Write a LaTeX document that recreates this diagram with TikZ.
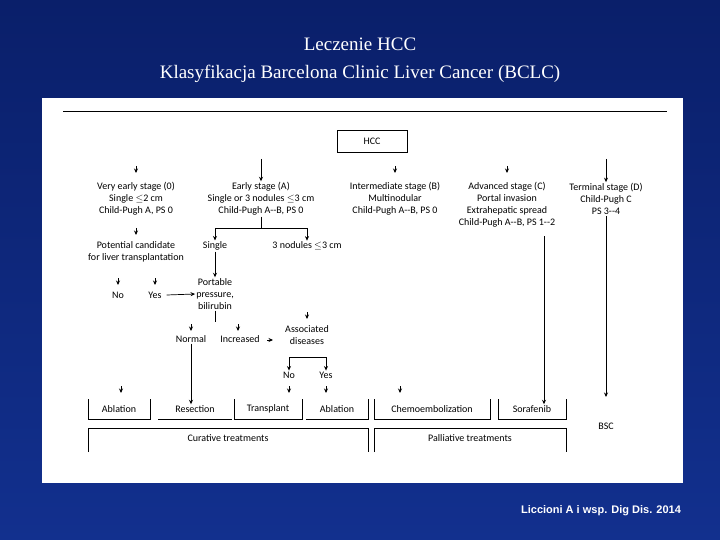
\documentclass[tikz,border=0pt]{standalone}
\usepackage{fontspec}
\setmainfont{Liberation Serif}
\newfontfamily\chartfont{Carlito}
\newfontfamily\citefont{Liberation Sans}
\usetikzlibrary{arrows.meta,positioning}
\definecolor{slidebg}{HTML}{12308E}
\definecolor{slidedark}{HTML}{0A1F6A}
\begin{document}
\begin{tikzpicture}[x=1pt,y=-1pt,
  txt/.style={font=\chartfont\fontsize{10}{12}\selectfont,align=center,inner sep=1pt},
  arr/.style={-{Stealth[length=4.5pt,width=4pt]},line width=0.7pt},
  tip/.style={-{Stealth[length=4.5pt,width=4pt]},line width=0.7pt},
  ln/.style={line width=0.7pt}]
% slide background
\shade[top color=slidedark,bottom color=slidebg] (0,0) rectangle (720,540);
\fill[white] (42,98) rectangle (683,483);
\node[font=\fontsize{19}{22}\selectfont,text=white] at (360,44) {Leczenie HCC};
\node[font=\fontsize{19}{22}\selectfont,text=white] at (360,74) {Klasyfikacja Barcelona Clinic Liver Cancer (BCLC)};
\node[font=\citefont\bfseries\fontsize{11}{13}\selectfont,text=white] at (601,511) {Liccioni A i wsp. Dig Dis. 2014};
\draw[ln] (63,111) -- (667,111);
% stages
\node[draw,ln,txt,minimum width=70pt,minimum height=22pt] (hcc) at (372,141) {HCC};
\node[txt] (v0) at (136,199) {Very early stage (0)\\Single $\le$2 cm\\Child-Pugh A, PS 0};
\node[txt] (sa) at (261,199) {Early stage (A)\\Single or 3 nodules $\le$3 cm\\Child-Pugh A--B, PS 0};
\node[txt] (sb) at (395,199) {Intermediate stage (B)\\Multinodular\\Child-Pugh A--B, PS 0};
\node[txt] (sc) at (507,205) {Advanced stage (C)\\Portal invasion\\Extrahepatic spread\\Child-Pugh A--B, PS 1--2};
\node[txt] (sd) at (606,199) {Terminal stage (D)\\Child-Pugh C\\PS 3--4};
\coordinate (ta) at (261,159);
\coordinate (td) at (606,159);
\draw[arr] (ta) -- (sa.north);
\draw[arr] (td) -- (sd.north);
\foreach \x in {136,395,507}
  \draw[tip] (\x,166) -- (\x,173);
% early stage branch
\node[txt] (single) at (215,246) {Single};
\node[txt] (three) at (307,246) {3 nodules $\le$3 cm};
\coordinate (fork) at (261,228);
\draw[ln] (sa.south) -- (fork);
\draw[arr] (fork) -| (single.north);
\draw[arr] (fork) -| (three.north);
\node[txt] (cand) at (136,252) {Potential candidate\\for liver transplantation};
\draw[tip] (136,228) -- (136,235);
\node[txt] (no1) at (118,295) {No};
\node[txt] (yes1) at (155,295) {Yes};
\draw[tip] (118,278) -- (118,285);
\draw[tip] (155,278) -- (155,285);
\node[txt] (port) at (215,294) {Portable\\pressure,\\bilirubin};
\draw[arr] (single.south) -- (port.north);
\draw[arr] ([xshift=4pt]yes1.east) -- (port.west);
\coordinate (pfork) at (215,322);
\draw[ln] (port.south) -- (pfork);
\node[txt] (norm) at (191,339) {Normal};
\node[txt] (incr) at (240,339) {Increased};
\draw[tip] (191,324) -- (191,331);
\draw[tip] (238,324) -- (238,331);
\node[txt] (assoc) at (307,335) {Associated\\diseases};
\draw[tip] (267,340) -- (273,340);
\draw[tip] (307,312) -- (307,319);
\coordinate (afork) at (307,357);
\node[txt] (no2) at (289,375) {No};
\node[txt] (yes2) at (326,375) {Yes};
\draw[ln] (no2.north |- afork) -- (yes2.north |- afork);
\draw[arr] (no2.north |- afork) -- (no2.north);
\draw[arr] (yes2.north |- afork) -- (yes2.north);
% treatments
\node[txt] (abl1) at (119,409) {Ablation};
\node[txt] (res) at (195,409) {Resection};
\node[txt] (trans) at (268,409) {Transplant};
\node[txt] (abl2) at (337,409) {Ablation};
\node[txt] (chemo) at (432,409) {Chemoembolization};
\node[txt] (sora) at (532,409) {Sorafenib};
\node[txt] (bsc) at (606,426) {BSC};
\draw[ln] (88,399) |- (150,419) -- (150,399);
\draw[ln] (158,419) -- (232,419);
\draw[ln] (234,399) |- (302,419) -- (302,399);
\draw[ln] (306,419) -| (368,399);
\draw[ln] (374,399) |- (490,419) -- (490,399);
\draw[ln] (498,399) |- (566,419) -- (566,399);
\coordinate (cline) at (544,236);
\draw[arr] (norm.south) -- (norm.south |- res.north);
\draw[arr] (cline) -- (cline |- sora.north);
\draw[arr] (sd.south) -- (606,397);
\foreach \x in {121,289,326,400}
  \draw[tip] (\x,386) -- (\x,393);
\node[txt] (cur) at (228,438) {Curative treatments};
\node[txt] (pal) at (470,438) {Palliative treatments};
\draw[ln] (88,452) |- (368,428) -- (368,452);
\draw[ln] (374,452) |- (566,428) -- (566,452);
\end{tikzpicture}
\end{document}
